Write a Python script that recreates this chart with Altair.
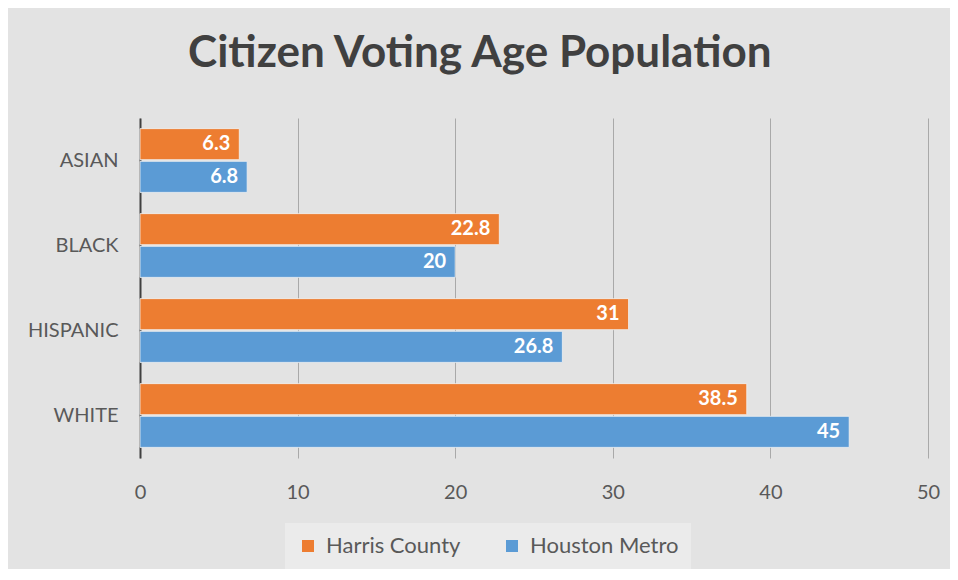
import altair as alt
import pandas as pd

categories = ["ASIAN", "BLACK", "HISPANIC", "WHITE"]
series = ["Harris County", "Houston Metro"]
harris = [6.3, 22.8, 31, 38.5]
houston = [6.8, 20, 26.8, 45]
x_ticks = [0, 10, 20, 30, 40, 50]

rows = []
for c, h, m in zip(categories, harris, houston):
    rows.append({"group": c, "series": series[0], "value": h})
    rows.append({"group": c, "series": series[1], "value": m})
df = pd.DataFrame(rows)

FONT = "Lato"
y_enc = alt.Y(
    "group:N",
    sort=categories,
    scale=alt.Scale(paddingInner=0.25, paddingOuter=0.125),
    axis=alt.Axis(
        title=None, ticks=False, domain=True, domainColor="#404040", domainWidth=2,
        labelPadding=22, labelFontSize=20, labelColor="#595959", labelFont=FONT,
        minExtent=120, maxExtent=120, grid=False,
    ),
)
yoff = alt.YOffset("series:N", sort=series, scale=alt.Scale(paddingInner=0.05))
x_enc = alt.X(
    "value:Q",
    scale=alt.Scale(domain=[0, 50], nice=False),
    axis=alt.Axis(
        title=None, values=x_ticks, domain=False, ticks=False, grid=True,
        gridColor="#a9a9a9", gridWidth=1, labelPadding=24, labelFontSize=20,
        labelColor="#595959", labelFont=FONT, labelFlush=False,
    ),
)

bars = alt.Chart(df).mark_bar(stroke="#f2f2f2", strokeWidth=0.8).encode(
    y=y_enc,
    yOffset=yoff,
    x=x_enc,
    color=alt.Color(
        "series:N",
        sort=series,
        scale=alt.Scale(domain=series, range=["#ED7D31", "#5B9BD5"]),
        legend=alt.Legend(
            title=None, orient="none", legendX=145, legendY=405,
            direction="horizontal",
            symbolType="square", symbolSize=144, symbolStrokeWidth=0,
            labelFontSize=22, labelColor="#595959", labelFont=FONT,
            columnPadding=40, fillColor="#ebebeb", padding=12,
            labelOffset=7,
        ),
    ),
)

labels = alt.Chart(df).mark_text(
    align="right", dx=-9, color="white", fontWeight="bold", fontSize=20, font=FONT,
    baseline="middle",
).encode(
    y=alt.Y("group:N", sort=categories),
    yOffset=yoff,
    x=alt.X("value:Q"),
    text=alt.Text("value:Q"),
)

chart = (
    alt.layer(bars, labels)
    .properties(
        width=788,
        height=340,
        background="#e3e3e3",
        padding={"left": 12, "top": 24, "right": 10, "bottom": 0},
        title=alt.TitleParams(
            "Citizen Voting Age Population", fontSize=44, font=FONT,
            fontWeight="bold", color="#404040", anchor="middle", frame="bounds",
            offset=42,
        ),
    )
    .configure_view(stroke=None)
)

chart.save("out.html", embed_options={"renderer": "svg", "actions": False})
